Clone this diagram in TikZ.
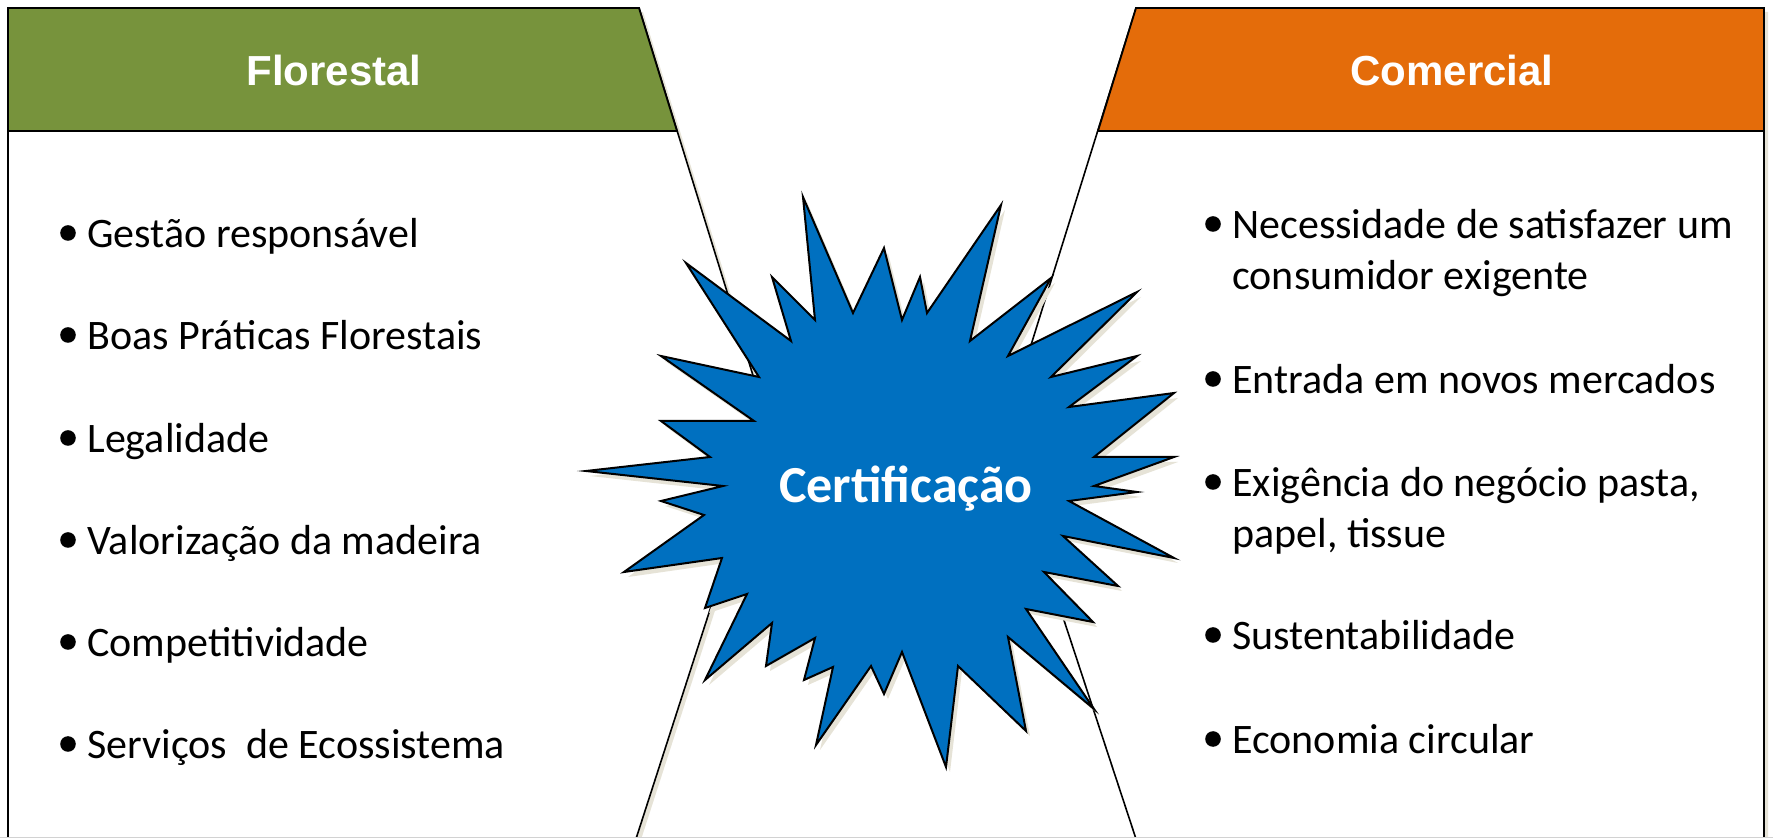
\documentclass[tikz,border=0pt]{standalone}
\usepackage{fontspec}
\setmainfont{Carlito}
\newfontfamily\headfont{Liberation Sans}

\definecolor{forestgreen}{HTML}{77933C}
\definecolor{tradeorange}{HTML}{E46C0A}
\definecolor{certblue}{HTML}{0070C0}
\definecolor{shade}{HTML}{E6E3D7}

\newcommand\twolines[2]{\begin{tabular}[t]{@{}l@{}}#1\\#2\end{tabular}}

\begin{document}
\begin{tikzpicture}[x=0.5pt, y=-0.5pt,
    panel/.style={draw=black, line width=0.8pt, fill=white,
        preaction={fill=shade, transform canvas={xshift=2pt, yshift=-2pt}}},
    header/.style={draw=black, line width=0.9pt},
    title/.style={font=\headfont\bfseries\fontsize{21}{25}\selectfont,
        text=white, anchor=base, inner sep=0pt},
    item/.style={font=\fontsize{21}{25.5}\selectfont, anchor=base west, inner sep=0pt},
    burst/.style={draw=black, line width=1pt, fill=certblue, line join=miter,
        preaction={fill=shade, transform canvas={xshift=2pt, yshift=-2.5pt}}}]

    \useasboundingbox (0,0) rectangle (1773,838);
    \clip (0,0) rectangle (1773,838);

    % left panel
    \draw[panel] (8,8) -- (639,8) -- (769,427) -- (634,845) -- (8,845) -- cycle;
    \draw[header, fill=forestgreen] (8,8) -- (639,8) -- (677,131) -- (8,131) -- cycle;
    \node[title] (florestal) at (334,86) {Florestal};

    % right panel
    \draw[panel] (1136,8) -- (1764,8) -- (1764,845) -- (1138,845) -- (1003,435) -- cycle;
    \draw[header, fill=tradeorange] (1136,8) -- (1764,8) -- (1764,131) -- (1098,131) -- cycle;
    \node[title] (comercial) at (1452,86) {Comercial};

    \draw[gray!35] (0,837) -- (1773,837);

    \node[item] (f1) at (87,248) {Gestão responsável};
    \node[item] (f2) at (87,350) {Boas Práticas Florestais};
    \node[item] (f3) at (87,453) {Legalidade};
    \node[item] (f4) at (87,555) {Valorização da madeira};
    \node[item] (f5) at (87,657) {Competitividade};
    \node[item] (f6) at (87,759) {Serviços\ \ de Ecossistema};

    \node[item] (c1) at (1232,239) {\twolines{Necessidade de satisfazer um}{consumidor exigente}};
    \node[item] (c2) at (1232,394) {Entrada em novos mercados};
    \node[item] (c3) at (1232,497) {\twolines{Exigência do negócio pasta,}{papel, tissue}};
    \node[item] (c4) at (1232,650) {Sustentabilidade};
    \node[item] (c5) at (1232,754) {Economia circular};

    \foreach \n in {f1,f2,f3,f4,f5,f6,c1,c2,c3,c4,c5}
        \fill ([shift={(-19,-15)}]\n.base west) circle (3.9pt);

    % starburst in the middle
    \draw[burst] (803,197) -- (815,320) -- (772,277) -- (791,341) -- (686,263)
        -- (759,377) -- (661,356) -- (754,421) -- (661,421) -- (710,457)
        -- (586,471) -- (723,486) -- (661,501) -- (704,515) -- (624,572)
        -- (722,558) -- (705,608) -- (747,594) -- (705,680) -- (772,623)
        -- (766,666) -- (815,638) -- (804,680) -- (833,667) -- (816,745)
        -- (871,666) -- (884,694) -- (902,652) -- (946,767) -- (958,666)
        -- (1026,731) -- (1008,637) -- (1094,709) -- (1026,609) -- (1093,622)
        -- (1044,572) -- (1118,586) -- (1063,536) -- (1174,558) -- (1069,501)
        -- (1137,492) -- (1094,486) -- (1174,457) -- (1094,457) -- (1174,393)
        -- (1069,407) -- (1137,356) -- (1051,377) -- (1137,292) -- (1008,356)
        -- (1051,278) -- (970,341) -- (1001,205) -- (927,313) -- (920,277)
        -- (902,320) -- (884,248) -- (853,313) -- cycle;
    \node[font=\bfseries\fontsize{26}{30}\selectfont, text=white, anchor=base,
        inner sep=0pt] (cert) at (906,503) {Certificação};
\end{tikzpicture}
\end{document}
